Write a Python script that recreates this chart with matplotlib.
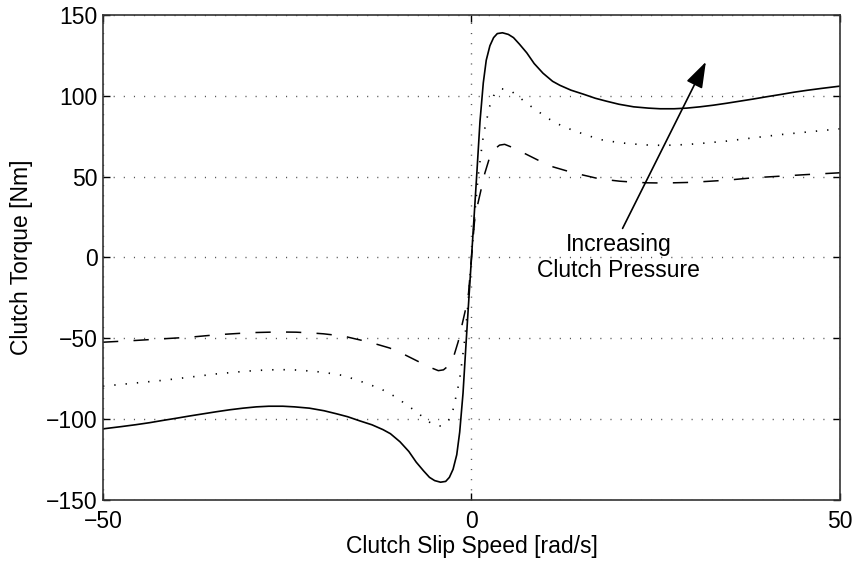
import numpy as np
from matplotlib import pyplot as plt

plt.rcParams['font.family'] = ['Liberation Sans', 'DejaVu Sans']

# torque vs slip speed, positive slip side (curves are odd in slip speed)
x_hi = [0, 0.35, 0.75, 1.15, 1.6, 2.0, 2.5, 3.0, 3.5, 4.2, 5.0, 5.7, 6.5, 7.5, 8.5,
        9.7, 11.0, 12.0, 13.5, 15.2, 16.8, 18.3, 20.0, 22.0, 24.0, 25.6, 27.5,
        29.2, 31.0, 32.8, 34.6, 36.4, 38.2, 40.0, 41.9, 43.7, 45.5, 47.5, 50.0]
y_hi = [0, 25, 54, 84, 108, 122, 131, 136, 138.5, 139, 138, 136, 132, 126.6, 120,
        114, 109, 106.5, 103.5, 101, 98.5, 96.7, 94.8, 93.2, 92.4, 92.0, 92.0,
        92.4, 93.2, 94.2, 95.4, 96.7, 98.0, 99.4, 100.8, 102.2, 103.4, 104.6, 106]

x_mid = [0, 0.5, 0.9, 1.25, 1.6, 1.9, 2.2, 2.5, 3.0, 3.5, 4.1, 4.7, 5.4, 6.6, 7.7,
         8.9, 10.0, 11.3, 12.5, 13.8, 15.1, 17.4, 20.1, 22.0, 23.8, 25.6, 27.4,
         29.2, 31.0, 34.6, 38.2, 41.9, 45.5, 50.0]
y_mid = [0, 30, 50, 63, 75, 82, 88, 94, 100, 103, 104.3, 104, 102.9, 98.7, 94.6,
         91, 87, 83.7, 80.8, 78.7, 76.5, 73, 71, 70.2, 69.6, 69.4, 69.5,
         69.9, 70.5, 72, 74, 76, 77.6, 79.6]

x_lo = [0, 0.4, 0.8, 1.2, 1.8, 2.4, 3.0, 3.8, 4.5, 5.7, 7.5, 9.3, 11.1, 13.8,
        15.8, 17.4, 20.1, 22.0, 23.8, 25.6, 27.4, 29.2, 31.0, 34.6, 38.2, 41.9,
        45.5, 50.0]
y_lo = [0, 22, 32, 40, 52, 61, 66.5, 69.5, 70, 67.8, 63.7, 59.6, 56, 52.4,
        50.3, 48.6, 47.2, 46.6, 46.2, 46.1, 46.2, 46.4, 46.8, 47.8, 49.3, 50.3,
        51.3, 52.4]

label_xy = (20, 0)
arrow_tail = (20.5, 18)
arrow_head = (31.8, 121)


def odd(xs, ys):
    xs = np.asarray(xs, float)
    ys = np.asarray(ys, float)
    return (np.concatenate([-xs[:0:-1], xs]),
            np.concatenate([-ys[:0:-1], ys]))


fig = plt.figure(figsize=(8.54, 5.64), dpi=100)
ax = fig.add_axes([0.1206, 0.1135, 0.8630, 0.8599])

# grid first so the curves sit on top
ax.set_axisbelow(True)
ax.grid(True, color='#555555', linestyle=(0, (0.8, 6.5)), linewidth=1.0)

xs, ys = odd(x_hi, y_hi)
ax.plot(xs, ys, color='k', linewidth=1.2, linestyle='-')
xs, ys = odd(x_mid, y_mid)
ax.plot(xs, ys, color='k', linewidth=1.2, linestyle=(0, (0.8, 6.0)))
xs, ys = odd(x_lo, y_lo)
ax.plot(xs, ys, color='k', linewidth=1.1, linestyle=(0, (10, 10)))

ax.set_xlim(-50, 50)
ax.set_ylim(-150, 150)
ax.set_xticks([-50, 0, 50])
ax.set_yticks([-150, -100, -50, 0, 50, 100, 150])
ax.tick_params(direction='in', length=5, width=1, top=True, right=True,
               labelsize=16.5, colors='k')
ax.tick_params(axis='y', pad=4)
ax.tick_params(axis='x', pad=7)
for s in ax.spines.values():
    s.set_linewidth(1.2)
    s.set_color('#333333')

ax.set_xlabel('Clutch Slip Speed [rad/s]', fontsize=16.5, labelpad=2)
ax.set_ylabel('Clutch Torque [Nm]', fontsize=16.5, labelpad=9)

ax.text(label_xy[0], label_xy[1], 'Increasing\nClutch Pressure',
        ha='center', va='center', fontsize=16.5)
ax.annotate('', xy=arrow_head, xytext=arrow_tail,
            arrowprops=dict(arrowstyle='-|>,head_length=0.8,head_width=0.27',
                            color='k', lw=1.2, mutation_scale=20,
                            shrinkA=0, shrinkB=0))

fig.savefig('out.png', dpi=100)
